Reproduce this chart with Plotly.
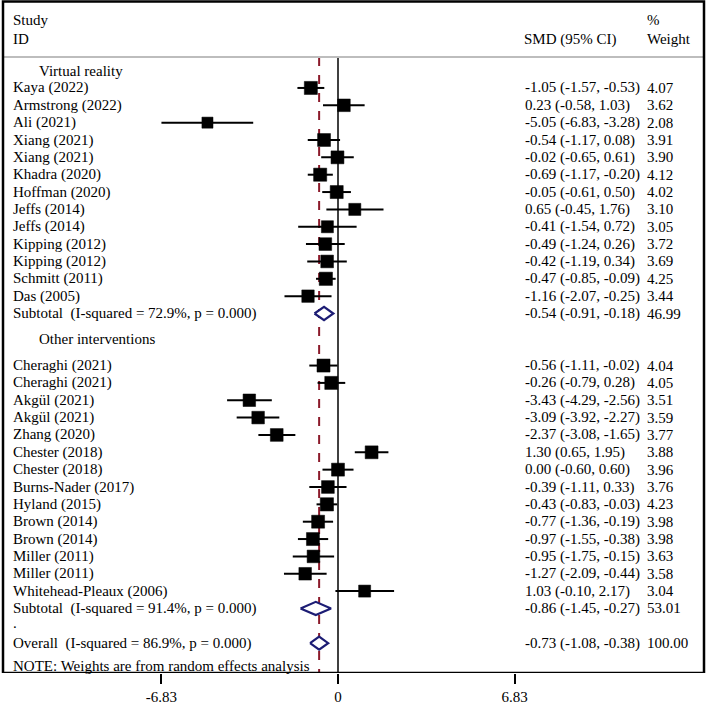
import plotly.graph_objects as go

# ---------------- data ----------------
vr_studies = ["Kaya (2022)", "Armstrong (2022)", "Ali (2021)", "Xiang (2021)", "Xiang (2021)",
              "Khadra (2020)", "Hoffman (2020)", "Jeffs (2014)", "Jeffs (2014)", "Kipping (2012)",
              "Kipping (2012)", "Schmitt (2011)", "Das (2005)"]
vr_es = [-1.05, 0.23, -5.05, -0.54, -0.02, -0.69, -0.05, 0.65, -0.41, -0.49, -0.42, -0.47, -1.16]
vr_lo = [-1.57, -0.58, -6.83, -1.17, -0.65, -1.17, -0.61, -0.45, -1.54, -1.24, -1.19, -0.85, -2.07]
vr_hi = [-0.53, 1.03, -3.28, 0.08, 0.61, -0.20, 0.50, 1.76, 0.72, 0.26, 0.34, -0.09, -0.25]
vr_w = [4.07, 3.62, 2.08, 3.91, 3.90, 4.12, 4.02, 3.10, 3.05, 3.72, 3.69, 4.25, 3.44]

oi_studies = ["Cheraghi (2021)", "Cheraghi (2021)", "Akgül (2021)", "Akgül (2021)", "Zhang (2020)",
              "Chester (2018)", "Chester (2018)", "Burns-Nader (2017)", "Hyland (2015)", "Brown (2014)",
              "Brown (2014)", "Miller (2011)", "Miller (2011)", "Whitehead-Pleaux (2006)"]
oi_es = [-0.56, -0.26, -3.43, -3.09, -2.37, 1.30, 0.00, -0.39, -0.43, -0.77, -0.97, -0.95, -1.27, 1.03]
oi_lo = [-1.11, -0.79, -4.29, -3.92, -3.08, 0.65, -0.60, -1.11, -0.83, -1.36, -1.55, -1.75, -2.09, -0.10]
oi_hi = [-0.02, 0.28, -2.56, -2.27, -1.65, 1.95, 0.60, 0.33, -0.03, -0.19, -0.38, -0.15, -0.44, 2.17]
oi_w = [4.04, 4.05, 3.51, 3.59, 3.77, 3.88, 3.96, 3.76, 4.23, 3.98, 3.98, 3.63, 3.58, 3.04]

pooled_labels = ["Subtotal\u00a0 (I-squared = 72.9%, p = 0.000)",
                 "Subtotal\u00a0 (I-squared = 91.4%, p = 0.000)",
                 "Overall\u00a0 (I-squared = 86.9%, p = 0.000)"]
pooled_es = [-0.54, -0.86, -0.73]
pooled_lo = [-0.91, -1.45, -1.08]
pooled_hi = [-0.18, -0.27, -0.38]
pooled_w = [46.99, 53.01, 100.00]

group_titles = ["Virtual reality", "Other interventions"]
x_tickvals = [-6.83, 0, 6.83]
x_ticktext = ["-6.83", "0", "6.83"]
note_text = "NOTE: Weights are from random effects analysis"

# ---------------- layout constants ----------------
W, H = 709, 706
FONT = "Liberation Serif"
FS = 15
ROW0_PX = 70.6      # pixel of row 0
ROW_PX = 17.35      # pixels per row
PLOT_BOTTOM = 673   # pixel of axis line
ZERO_PX = 338.0
PX_PER_UNIT = 25.85


def py(px):
    """pixel y -> row units"""
    return (px - ROW0_PX) / ROW_PX


vr_rows = list(range(1, 1 + len(vr_studies)))
vr_sub_row = vr_rows[-1] + 1
oi_head_row = vr_sub_row + 1.45
oi_rows = list(range(vr_sub_row + 3, vr_sub_row + 3 + len(oi_studies)))
oi_sub_row = oi_rows[-1] + 1
dot_row = oi_sub_row + 1
overall_row = dot_row + 1
note_row = overall_row + 1.3
pooled_rows = [vr_sub_row, oi_sub_row, overall_row]

fig = go.Figure()

# study squares with CI lines
for es, lo, hi, w, rows in [(vr_es, vr_lo, vr_hi, vr_w, vr_rows), (oi_es, oi_lo, oi_hi, oi_w, oi_rows)]:
    fig.add_trace(go.Scatter(
        x=es, y=rows, mode="markers",
        marker=dict(symbol="square", color="#000000", size=[9 + wi for wi in w],
                    opacity=1, line=dict(width=0.5, color="#000000")),
        error_x=dict(type="data", symmetric=False,
                     array=[h - e for h, e in zip(hi, es)],
                     arrayminus=[e - l for e, l in zip(es, lo)],
                     color="black", thickness=2, width=0),
        hoverinfo="skip"))

# diamonds
DH = 0.38
for es, lo, hi, r in zip(pooled_es, pooled_lo, pooled_hi, pooled_rows):
    fig.add_trace(go.Scatter(
        x=[lo, es, hi, es, lo], y=[r, r - DH, r, r + DH, r],
        mode="lines", fill="toself", fillcolor="white",
        line=dict(color="#1c1c74", width=2.2), hoverinfo="skip"))

# vertical lines
y_top = py(57)
y_bot = py(PLOT_BOTTOM)
fig.add_shape(type="line", xref="x", yref="y", x0=0, x1=0, y0=y_top, y1=y_bot,
              line=dict(color="black", width=1.5), layer="below")
fig.add_shape(type="line", xref="x", yref="y", x0=pooled_es[2], x1=pooled_es[2], y0=y_top, y1=y_bot,
              line=dict(color="#8b1a2a", width=2, dash="dash"), layer="below")

# header separator
fig.add_shape(type="line", xref="paper", yref="y", x0=3 / W, x1=704 / W, y0=y_top, y1=y_top,
              line=dict(color="#bdbdbd", width=2))
# outer box
fig.add_shape(type="rect", xref="paper", yref="y", x0=3 / W, x1=704 / W, y0=py(1.5), y1=y_bot,
              line=dict(color="black", width=2.5), fillcolor="rgba(0,0,0,0)")

ann = []


def txt(x_px, y_row, s):
    ann.append(dict(x=x_px / W, xref="paper", y=y_row, yref="y", text=s, showarrow=False,
                    xanchor="left", yanchor="middle", font=dict(family=FONT, size=FS, color="black")))


# headers
txt(11, py(20), "Study")
txt(11, py(39), "ID")
txt(522, py(39), "SMD (95% CI)")
txt(645, py(20), "%")
txt(645, py(39), "Weight")

LX, HX, CX, WX = 11, 37, 523, 645
txt(HX, 0, group_titles[0])
txt(HX, oi_head_row, group_titles[1])

for names, es, lo, hi, w, rows in [(vr_studies, vr_es, vr_lo, vr_hi, vr_w, vr_rows),
                                   (oi_studies, oi_es, oi_lo, oi_hi, oi_w, oi_rows)]:
    for n, e, l, h, wi, r in zip(names, es, lo, hi, w, rows):
        txt(LX, r, n)
        txt(CX, r, f"{e:.2f} ({l:.2f}, {h:.2f})")
        txt(WX, r, f"{wi:.2f}")

for lab, e, l, h, wi, r in zip(pooled_labels, pooled_es, pooled_lo, pooled_hi, pooled_w, pooled_rows):
    txt(LX, r, lab)
    txt(CX, r, f"{e:.2f} ({l:.2f}, {h:.2f})")
    txt(WX, r, f"{wi:.2f}")

txt(LX, dot_row - 0.15, ".")
txt(LX, note_row, note_text)

x_min = -ZERO_PX / PX_PER_UNIT
x_max = (W - ZERO_PX) / PX_PER_UNIT

fig.update_layout(
    width=W, height=H,
    margin=dict(l=0, r=0, t=0, b=H - PLOT_BOTTOM),
    paper_bgcolor="white", plot_bgcolor="white",
    showlegend=False,
    annotations=ann,
    xaxis=dict(range=[x_min, x_max], showgrid=False, zeroline=False, showline=False,
               tickvals=x_tickvals, ticktext=x_ticktext, ticks="outside", ticklen=10,
               tickwidth=2, tickcolor="black", automargin=False,
               tickfont=dict(family=FONT, size=FS, color="black"), fixedrange=True),
    yaxis=dict(range=[y_bot, py(0)], visible=False, fixedrange=True, automargin=False),
)

fig.write_html("out.html", config={"displayModeBar": False},
               post_script="document.body.style.margin='0';document.body.style.overflow='hidden';")
